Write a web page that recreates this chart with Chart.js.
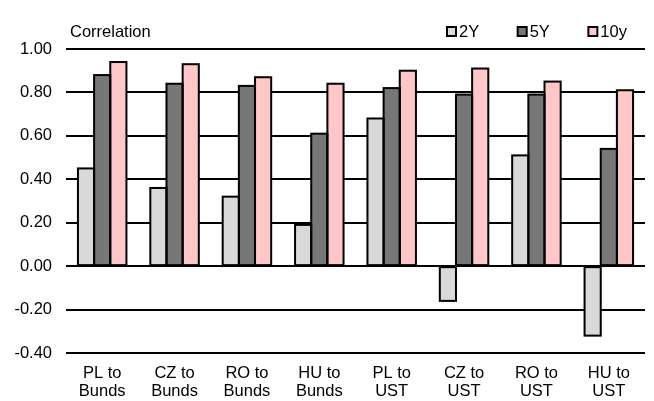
<!DOCTYPE html>
<html>
<head>
<meta charset="utf-8">
<script src="https://cdn.jsdelivr.net/npm/chart.js@4/dist/chart.umd.min.js"></script>
<style>
  html, body { margin: 0; padding: 0; background: #ffffff; }
  #wrap { width: 654px; height: 401px; position: relative; }
</style>
</head>
<body>
<div id="wrap"><canvas id="c"></canvas></div>
<script>
// Correlation of CEE government bond yields with Bunds and US Treasuries
const categories = [
  ["PL to", "Bunds"], ["CZ to", "Bunds"], ["RO to", "Bunds"], ["HU to", "Bunds"],
  ["PL to", "UST"], ["CZ to", "UST"], ["RO to", "UST"], ["HU to", "UST"]
];
const seriesNames = ["2Y", "5Y", "10y"];
const corr2Y  = [0.45, 0.36, 0.32, 0.19, 0.68, -0.16, 0.51, -0.32];
const corr5Y  = [0.88, 0.84, 0.83, 0.61, 0.82, 0.79, 0.79, 0.54];
const corr10y = [0.94, 0.93, 0.87, 0.84, 0.90, 0.91, 0.85, 0.81];
const yTicks = [-0.4, -0.2, 0, 0.2, 0.4, 0.6, 0.8, 1.0];

const FONT = "'Liberation Sans', Arial, sans-serif";
const FONT_SIZE = 16.5;
const fills = ["#d9d9d9", "#777777", "#ffc7c7"];

// Black outlines centred on each bar edge, so neighbouring bars share one line
const outlinePlugin = {
  id: 'outline',
  afterDatasetsDraw(chart) {
    const ctx = chart.ctx;
    ctx.save();
    ctx.strokeStyle = "#000";
    ctx.lineWidth = 2;
    chart.data.datasets.forEach((ds, i) => {
      chart.getDatasetMeta(i).data.forEach(bar => {
        const p = bar.getProps(['x', 'y', 'base', 'width'], true);
        const top = Math.min(p.y, p.base);
        const h = Math.abs(p.base - p.y);
        ctx.strokeRect(p.x - p.width / 2, top, p.width, h);
      });
    });
    ctx.restore();
  }
};

// Axis caption and legend drawn in the header strip above the plot
const headerPlugin = {
  id: 'header',
  afterDraw(chart) {
    const ctx = chart.ctx;
    ctx.save();
    ctx.font = FONT_SIZE + "px " + FONT;
    ctx.fillStyle = "#000";
    ctx.textBaseline = "middle";
    ctx.textAlign = "left";
    ctx.fillText("Correlation", 70, 32);

    let x = 447;
    const box = 9, cy = 32;
    chart.data.datasets.forEach(ds => {
      ctx.fillStyle = ds.backgroundColor;
      ctx.fillRect(x, cy - box / 2 - 0.5, box, box);
      ctx.strokeStyle = "#000";
      ctx.lineWidth = 2;
      ctx.strokeRect(x, cy - box / 2 - 0.5, box, box);
      ctx.fillStyle = "#000";
      ctx.fillText(ds.label, x + box + 3, cy);
      x += box + 3 + ctx.measureText(ds.label).width + 38.5;
    });
    ctx.restore();
  }
};

const seriesData = [corr2Y, corr5Y, corr10y];

new Chart(document.getElementById('c'), {
  type: 'bar',
  data: {
    labels: categories,
    datasets: seriesNames.map((name, i) => ({
      label: name,
      data: seriesData[i],
      backgroundColor: fills[i],
      borderWidth: 0,
      inflateAmount: 0,
      categoryPercentage: 0.67,
      barPercentage: 1.0
    }))
  },
  options: {
    responsive: true,
    maintainAspectRatio: false,
    animation: false,
    devicePixelRatio: 1,
    layout: { padding: { top: 49, right: 9, left: 0, bottom: 0 } },
    plugins: {
      legend: { display: false },
      tooltip: { enabled: false }
    },
    scales: {
      x: {
        grid: { display: false, drawTicks: false },
        border: { display: false },
        ticks: {
          color: "#000",
          font: { family: FONT, size: FONT_SIZE, lineHeight: 1.12 },
          padding: 11,
          maxRotation: 0,
          autoSkip: false
        },
        afterFit(scale) { scale.height = 48; }
      },
      y: {
        min: -0.4,
        max: 1.0,
        afterBuildTicks(scale) { scale.ticks = yTicks.map(v => ({ value: v })); },
        grid: { color: "#000", lineWidth: 2, drawTicks: false },
        border: { display: false },
        ticks: {
          color: "#000",
          font: { family: FONT, size: FONT_SIZE },
          padding: 14,
          callback: v => Number(v).toFixed(2)
        },
        afterFit(scale) { scale.width = 66; }
      }
    }
  },
  plugins: [outlinePlugin, headerPlugin]
});
</script>
</body>
</html>
